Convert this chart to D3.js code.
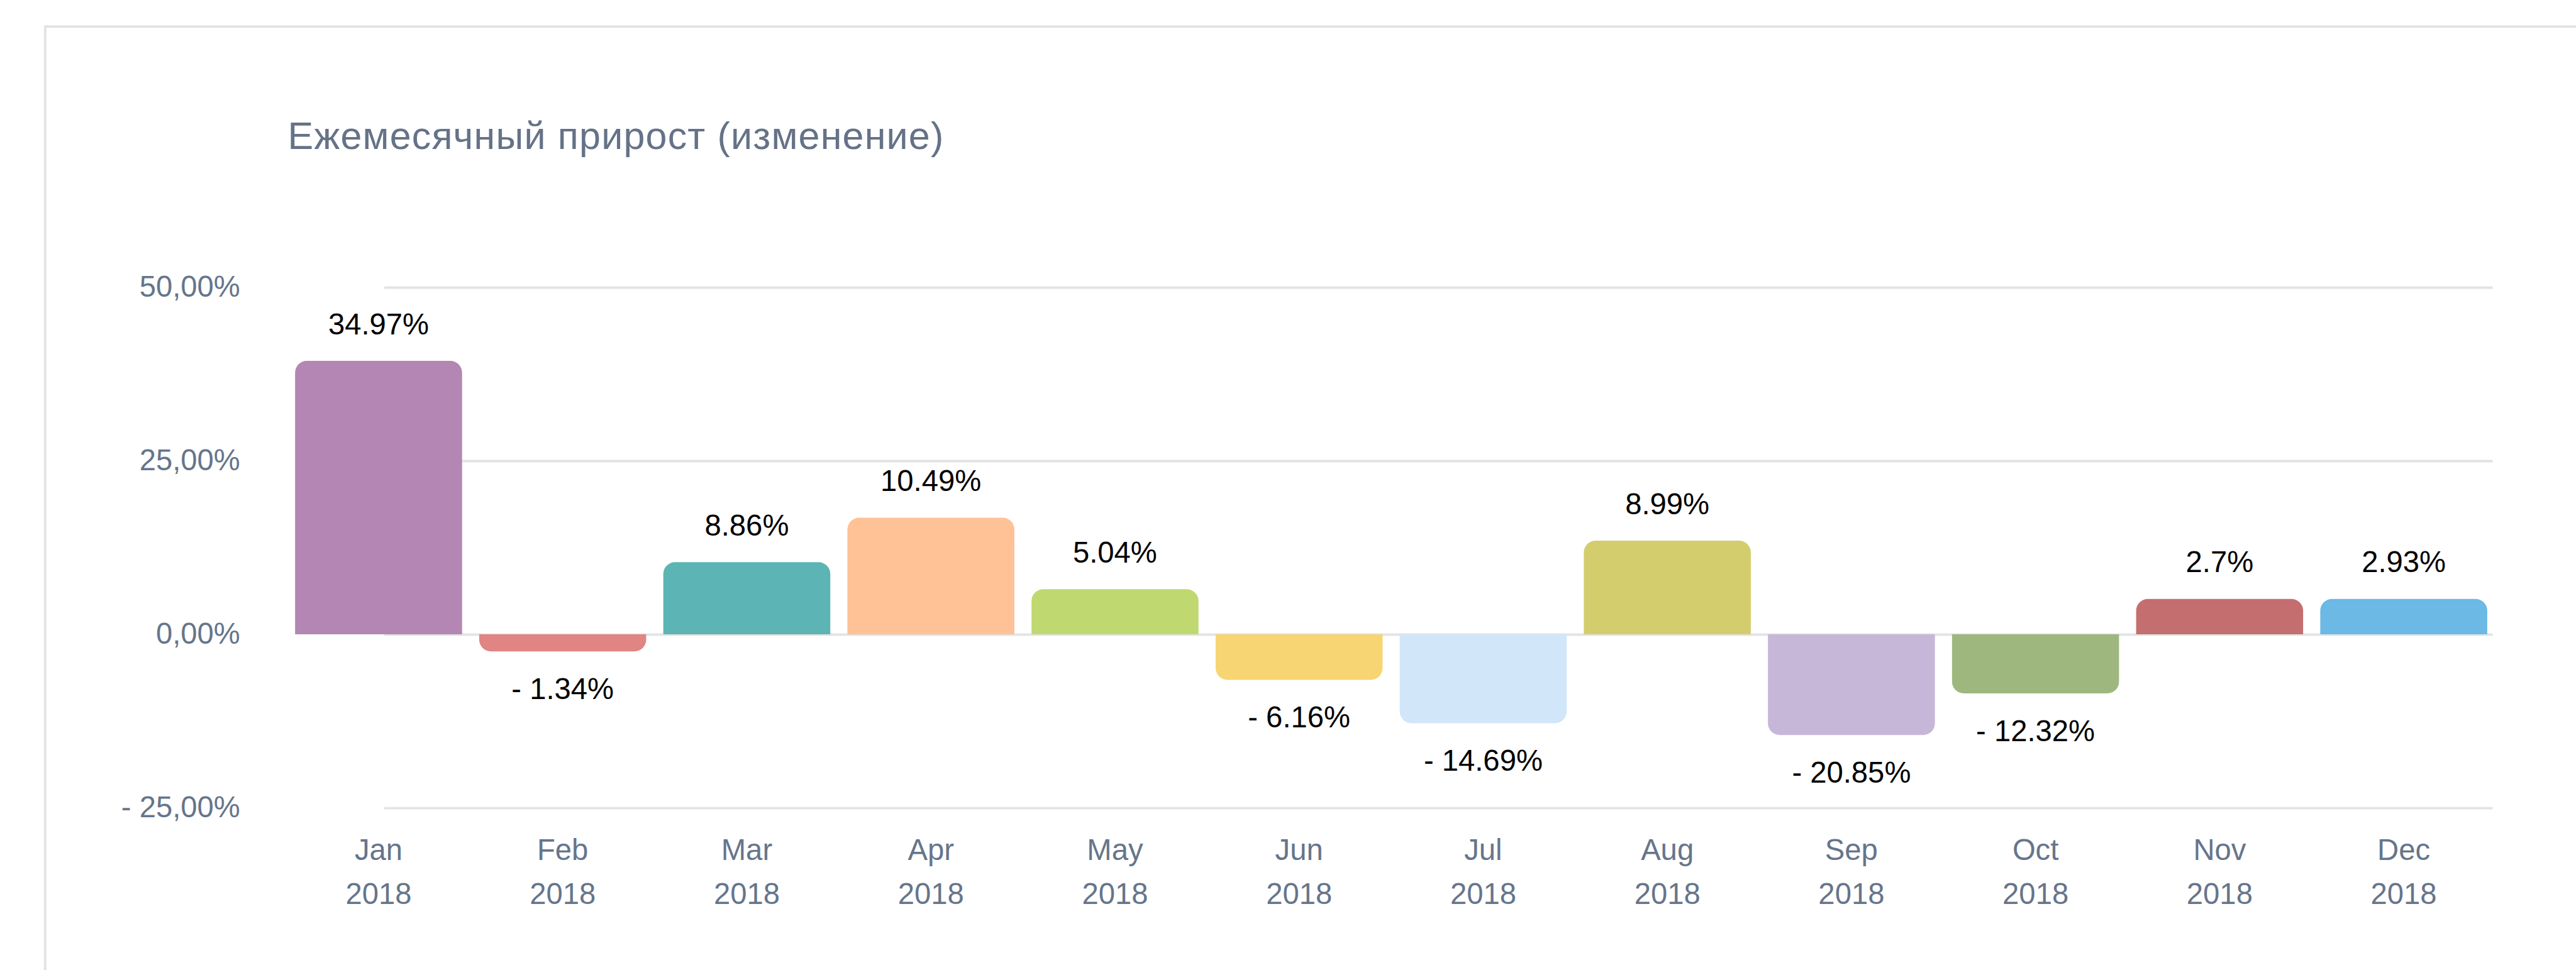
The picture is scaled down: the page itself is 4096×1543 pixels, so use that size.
<!DOCTYPE html>
<html>
<head>
<meta charset="utf-8">
<script src="https://cdn.jsdelivr.net/npm/d3@7"></script>
<style>
    html, body { margin: 0; padding: 0; background: #fff; }
    svg { display: block; }
    text { font-family: "Liberation Sans", Arial, Helvetica, sans-serif; }
</style>
</head>
<body>
<div id="container"></div>
<script>
const months = ['Jan', 'Feb', 'Mar', 'Apr', 'May', 'Jun', 'Jul', 'Aug', 'Sep', 'Oct', 'Nov', 'Dec'];
const year = '2018';
// bar heights as drawn in the picture (they differ from the printed labels)
const barValues = [39.4, -2.45, 10.4, 16.8, 6.5, -6.55, -12.8, 13.5, -14.5, -8.5, 5.1, 5.1];
// values printed over / under the bars
const labelValues = [34.97, -1.34, 8.86, 10.49, 5.04, -6.16, -14.69, 8.99, -20.85, -12.32, 2.7, 2.93];
const colors = ['#b386b3', '#e08583', '#5cb4b4', '#ffc196', '#bfd870', '#f7d573',
    '#d1e6f9', '#d3cd6e', '#c6b7d8', '#9eb77f', '#c46e70', '#6bb9e4'];
const yTicks = [-25, 0, 25, 50];
const title = 'Ежемесячный прирост (изменение)';

const k = 0.984;
const W = 4096, H = 1543;

const gridLeft = 621;
const gridRight = 4028;
const radius = 19;

const x = d3.scaleBand().domain(months).range([463, 4033]).paddingInner(0.093).paddingOuter(0.0465);
const y = d3.scaleLinear().domain([-25, 50]).range([1306, 464.5]);

const fmtTick = (d) => (d < 0 ? '- ' : '') + Math.abs(d).toFixed(2).replace('.', ',') + '%';
const fmtLabel = (d) => (d < 0 ? '- ' : '') + Math.abs(d) + '%';

const svg = d3.select('#container').append('svg')
    .attr('width', W)
    .attr('height', H)
    .append('g').attr('transform', `scale(${k})`);

// card outline (only top and left edge are in view)
svg.append('rect')
    .attr('x', 73).attr('y', 43)
    .attr('width', 4300).attr('height', 1700)
    .style('fill', 'none')
    .style('stroke', '#e3e3e3')
    .style('stroke-width', 4);

svg.append('text')
    .attr('x', 465)
    .attr('y', 241)
    .style('font-size', '62px')
    .style('letter-spacing', '1.2px')
    .style('fill', '#657287')
    .text(title);

// y axis with gridlines
const yAxis = d3.axisLeft(y)
    .tickValues(yTicks)
    .tickSize(-(gridRight - gridLeft))
    .tickPadding(gridLeft - 388)
    .tickFormat(fmtTick);

const yg = svg.append('g')
    .attr('transform', `translate(${gridLeft} 0)`)
    .call(yAxis);
yg.select('.domain').remove();
yg.selectAll('.tick line').style('stroke', '#e2e3e5').style('stroke-width', 4);
yg.selectAll('.tick text')
    .attr('dy', '0.3em')
    .style('font-size', '48px')
    .style('font-family', '"Liberation Sans", Arial, sans-serif')
    .style('fill', '#66758b');

// bars, rounded on the outer end
const barPath = (d, i) => {
    const x0 = x(months[i]);
    const w = x.bandwidth();
    const y0 = y(0);
    const y1 = y(d);
    const r = Math.min(radius, Math.abs(y1 - y0));
    if (y1 < y0) {
        return `M${x0},${y0} V${y1 + r} A${r},${r} 0 0 1 ${x0 + r},${y1} H${x0 + w - r} A${r},${r} 0 0 1 ${x0 + w},${y1 + r} V${y0} Z`;
    }
    return `M${x0},${y0} V${y1 - r} A${r},${r} 0 0 0 ${x0 + r},${y1} H${x0 + w - r} A${r},${r} 0 0 0 ${x0 + w},${y1 - r} V${y0} Z`;
};

svg.append('g').selectAll('path').data(barValues).enter().append('path')
    .attr('d', barPath)
    .style('fill', (d, i) => colors[i]);

// value labels
svg.append('g').selectAll('text').data(barValues).enter().append('text')
    .attr('x', (d, i) => x(months[i]) + x.bandwidth() / 2)
    .attr('y', (d) => d >= 0 ? y(d) - 43 : y(d) + 77)
    .attr('text-anchor', 'middle')
    .style('font-size', '48px')
    .style('fill', '#000')
    .text((d, i) => fmtLabel(labelValues[i]));

// x axis, two-line labels
const xAxis = d3.axisBottom(x).tickSize(0).tickPadding(0);
const xg = svg.append('g')
    .attr('transform', 'translate(0 1390)')
    .call(xAxis);
xg.select('.domain').remove();
xg.selectAll('.tick text')
    .attr('y', 0)
    .attr('dy', null)
    .style('font-size', '48px')
    .style('font-family', '"Liberation Sans", Arial, sans-serif')
    .style('fill', '#66758b')
    .each(function (d) {
        const t = d3.select(this);
        t.text(null);
        t.append('tspan').attr('x', 0).attr('y', 0).text(d);
        t.append('tspan').attr('x', 0).attr('y', 71).text(year);
    });
</script>
</body>
</html>
